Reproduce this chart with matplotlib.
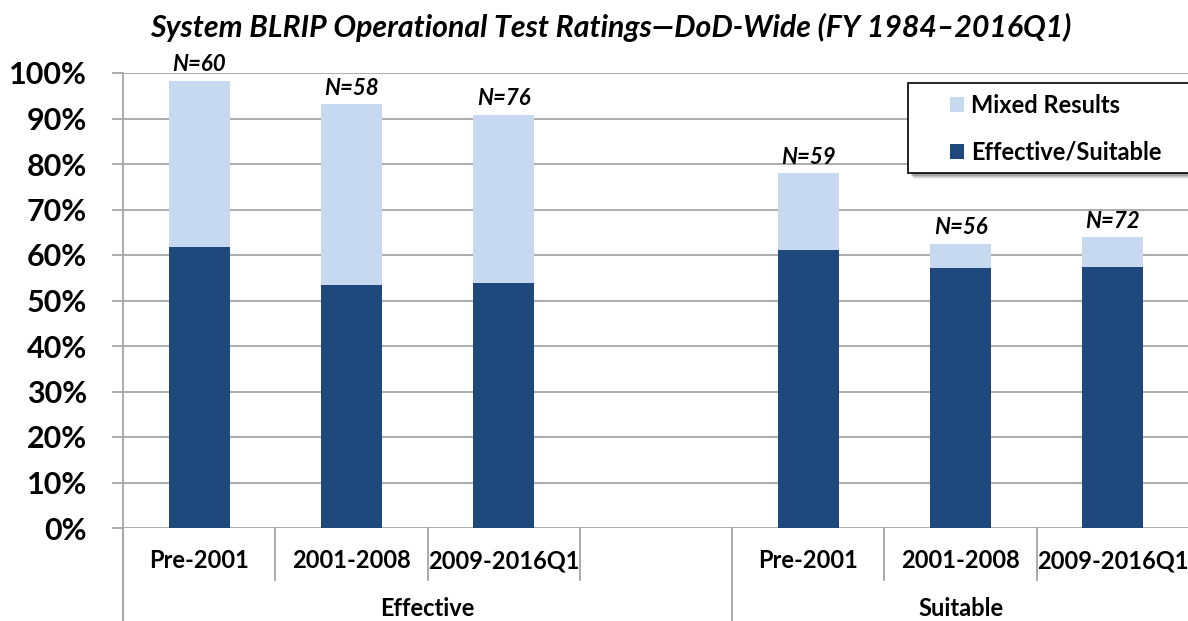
import matplotlib
matplotlib.use("Agg")
import matplotlib.pyplot as plt
import matplotlib.transforms as mtransforms
from matplotlib.patches import Rectangle
import numpy as np

plt.rcParams['font.family'] = ['Lato', 'DejaVu Sans']

# ---- data ----
groups = ['Effective', 'Suitable']
periods = ['Pre-2001', '2001-2008', '2009-2016Q1']
effective_suitable = [61.7, 53.4, 53.9, 61.0, 57.1, 57.4]   # % (dark)
mixed_results = [36.6, 39.7, 36.9, 17.0, 5.4, 6.5]          # % (light, stacked)
n_counts = [60, 58, 76, 59, 56, 72]
series_names = ['Effective/Suitable', 'Mixed Results']
title = 'System BLRIP Operational Test Ratings\u2014DoD-Wide (FY 1984\u20132016Q1)'
yticks = list(range(0, 101, 10))

dark = '#1F497D'
light = '#C6D9F1'
grid_c = '#A6A6A6'

W, H = 1188, 621
fig = plt.figure(figsize=(W / 100, H / 100), dpi=100)
ax = fig.add_axes([123 / W, 93 / H, 1066 / W, 455 / H])

slots_per_group = len(periods) + 1
x = []
for g in range(len(groups)):
    for i in range(len(periods)):
        x.append(g * slots_per_group + i)
x = np.array(x)
nslots = len(groups) * slots_per_group - 1

b1 = ax.bar(x, effective_suitable, width=0.4, color=dark, zorder=3, label=series_names[0])
b2 = ax.bar(x, mixed_results, width=0.4, bottom=effective_suitable, color=light, zorder=3,
            label=series_names[1])

tops = np.array(effective_suitable) + np.array(mixed_results)
for xi, t, n in zip(x, tops, n_counts):
    ax.annotate(f'N={n}', (xi, t), xytext=(0, 4), textcoords='offset points',
                ha='center', va='bottom', fontsize=16, fontweight='bold', fontstyle='italic',
                zorder=5)

ax.set_xlim(-0.5, nslots - 0.5)
ax.set_ylim(0, 100)
ax.set_yticks(yticks)
ax.set_yticklabels([f'{v}%' for v in yticks], fontsize=22, fontweight='bold')
ax.tick_params(axis='y', length=8, width=1.3, color=grid_c, pad=18)
ax.set_xticks([])
ax.yaxis.grid(True, color=grid_c, lw=1.3, zorder=0)
for s in ['top', 'right', 'bottom']:
    ax.spines[s].set_visible(False)
ax.spines['left'].set_color(grid_c)
ax.spines['left'].set_linewidth(1.3)

trans = mtransforms.blended_transform_factory(ax.transData, ax.transAxes)
bottom_frac = -93 / 455
# left axis extension
ax.plot([-0.5, -0.5], [0, bottom_frac], transform=trans, color=grid_c, lw=1.3, clip_on=False)
# separators
for b in range(nslots + 1):
    bx = b - 0.5
    if b % slots_per_group == 0 and b < nslots:
        ax.plot([bx, bx], [0, bottom_frac], transform=trans, color=grid_c, lw=1.3, clip_on=False)
    else:
        ax.plot([bx, bx], [0, -0.115], transform=trans, color=grid_c, lw=1.3, clip_on=False)

for xi, lab in zip(x, periods * len(groups)):
    ax.text(xi, -0.072, lab, transform=trans, ha='center', va='center',
            fontsize=17, fontweight='bold')
for g, gname in enumerate(groups):
    start = g * slots_per_group - 0.5
    end = min((g + 1) * slots_per_group - 0.5, nslots - 0.5)
    ax.text((start + end) / 2, -0.178, gname, transform=trans, ha='center', va='center',
            fontsize=17, fontweight='bold')

fig.text(611 / W, 1 - 27 / H, title, ha='center', va='center', fontsize=21.8,
         fontweight='bold', fontstyle='italic')

# legend frame with shadow
lx0, ly_top, lw_, lh = 908, 83, 300, 90
for k, a in [(6, 0.10), (5, 0.15), (4, 0.2), (3, 0.25)]:
    fig.patches.append(Rectangle(((lx0 + k) / W, 1 - (ly_top + lh + k) / H), lw_ / W, lh / H,
                                 transform=fig.transFigure, facecolor='black', alpha=a * 0.6,
                                 edgecolor='none', zorder=9))
fig.patches.append(Rectangle((lx0 / W, 1 - (ly_top + lh) / H), lw_ / W, lh / H,
                             transform=fig.transFigure, facecolor='white', edgecolor='black',
                             lw=1.2, zorder=10))
leg = fig.legend(handles=[b2, b1], labels=[series_names[1], series_names[0]],
                 loc='upper left', bbox_to_anchor=(950 / W, 1 - 94 / H),
                 bbox_transform=fig.transFigure, frameon=False, borderpad=0, borderaxespad=0,
                 prop={'size': 17, 'weight': 'bold'}, handlelength=0.6, handleheight=0.6,
                 handletextpad=0.3, labelspacing=1.0)
leg.set_zorder(11)

fig.savefig('out.png', dpi=100)
